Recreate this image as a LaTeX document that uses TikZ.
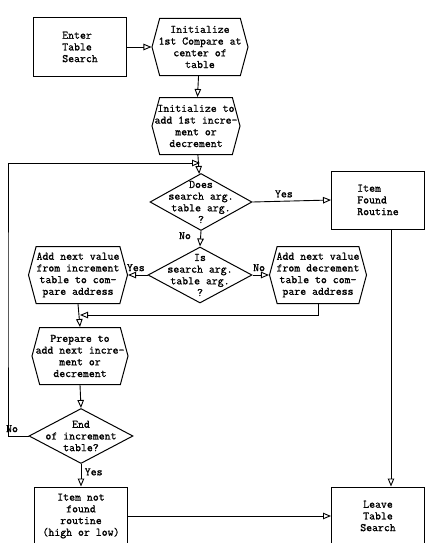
\documentclass[tikz,border=0pt]{standalone}
\usepackage{fontspec}
\newfontfamily\typefont{Latin Modern Mono}[FakeBold=1]
\usetikzlibrary{arrows.meta,shapes.geometric,shapes.symbols}

\begin{document}
\begin{tikzpicture}[x=1pt,y=-1pt,
    every node/.style={font=\typefont\fontsize{11.5}{11.7}\selectfont,align=center},
    box/.style={draw,line width=1pt,minimum width=93pt,minimum height=58pt},
    hexbox/.style={draw,line width=1pt,shape=signal,signal to=east and west,signal pointer angle=150,minimum height=57pt,inner sep=0pt},
    decision/.style={draw,line width=1pt,diamond,inner sep=0pt},
    flow/.style={-{Triangle[open,length=8pt,width=6.5pt]},line width=0.9pt}]
    \useasboundingbox (0,0) rectangle (437,543);
    % start and the two set-up steps
    \node[box,align=left] (enter) at (80,47) {Enter\\Table\\Search};
    \node[hexbox,minimum width=96pt] (init1) at (200,47) {};
    \node (init1txt) at (init1) {Initialize\\1st Compare at\\center of\\table};
    \node[hexbox,minimum width=88pt] (init2) at (196,126) {};
    \node (init2txt) at (init2) {Initialize to\\add 1st incre-\\ment or\\decrement};
    % the two tests
    \node[decision,minimum width=102pt,minimum height=57pt] (does) at (201,202) {};
    \node (doestxt) at (does) {Does\\search arg.\\table arg.\\?};
    \node[decision,minimum width=104pt,minimum height=56pt] (is) at (200,275) {};
    \node (istxt) at (is) {Is\\search arg.\\table arg.\\?};
    \node[box,align=left] (found) at (378,200) {Item\\Found\\Routine};
    % stepping through the table
    \node[hexbox,minimum width=99pt] (inc) at (78,275) {};
    \node (inctxt) at (inc) {Add next value\\from increment\\table to com-\\pare address};
    \node[hexbox,minimum width=97pt] (dec) at (318,275) {};
    \node (dectxt) at (dec) {Add next value\\from decrement\\table to com-\\pare address};
    \node[hexbox,minimum width=96pt] (prep) at (80,356) {};
    \node (preptxt) at (prep) {Prepare to\\add next incre-\\ment or\\decrement};
    \node[decision,minimum width=104pt,minimum height=55pt] (endd) at (81,436) {};
    \node (enddtxt) at (endd) {End\\of increment\\table?};
    % exits
    \node[box] (notfound) at (81,516) {Item not\\found\\routine\\(high or low)};
    \node[box] (leave) at (378,516) {Leave\\Table\\Search};
    \coordinate (j1) at (200,163);
    \coordinate (j2) at (80,315);
    \coordinate (lft) at (8,300);
    \draw[flow] (enter) -- (init1);
    \draw[flow] (init1) -- (init2);
    \draw[flow] (init2) -- (does);
    \draw[flow] (does.east) -- node[above,pos=0.4] (yes1) {Yes} (found.west);
    \draw[flow] (does.south) -- node[left,pos=0.3,xshift=-6pt] (no1) {No} (is.north);
    \draw[flow] (is.west) -- node[above,pos=0.6] (yes2) {Yes} (inc.east);
    \draw[flow] (is.east) -- node[above,pos=0.4] (no2) {No} (dec.west);
    \draw[flow] (dec.south) |- (j2);
    \draw[flow] (inc.south) -- (prep.north);
    \draw[flow] (prep.south) -- (endd.north);
    \draw[flow] (endd.west) -| node[above,pos=0.45,xshift=2pt] (no3) {No} (lft) |- (j1);
    \draw[flow] (endd.south) -- node[right,pos=0.35] (yes3) {Yes} (notfound.north);
    \draw[flow] ([xshift=13pt]found.south) -- ([xshift=13pt]leave.north);
    \draw[flow] (notfound.east) -- (leave.west);
  \end{tikzpicture}
\end{document}
